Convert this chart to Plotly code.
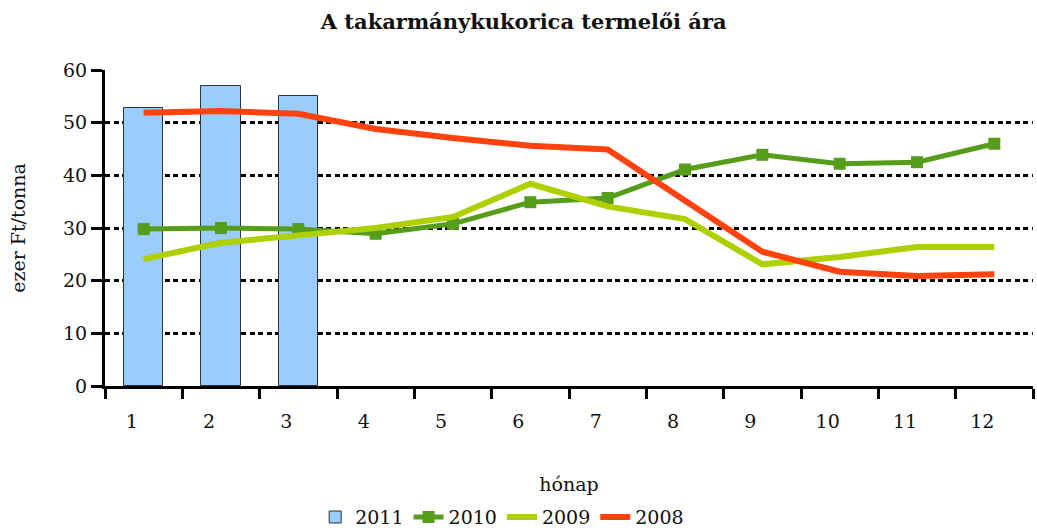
import plotly.graph_objects as go

months = [1, 2, 3, 4, 5, 6, 7, 8, 9, 10, 11, 12]
month_labels = ["1", "2", "3", "4", "5", "6", "7", "8", "9", "10", "11", "12"]
y2011 = [52.8, 57.0, 55.0]
y2010 = [29.8, 30.0, 29.8, 28.9, 30.8, 34.9, 35.7, 41.1, 43.9, 42.2, 42.5, 46.0]
y2009 = [24.1, 27.2, 28.6, 30.0, 32.1, 38.4, 34.1, 31.7, 23.1, 24.5, 26.4, 26.4]
y2008 = [51.9, 52.2, 51.7, 48.8, 47.1, 45.6, 44.9, 35.3, 25.5, 21.7, 20.9, 21.2]

FONT = "DejaVu Serif"

fig = go.Figure()
fig.add_trace(go.Bar(x=months[:3], y=y2011, name="2011", width=0.505,
                     marker=dict(color="#99ccff", line=dict(color="#333333", width=1))))
fig.add_trace(go.Scatter(x=months, y=y2010, name="2010", mode="lines+markers",
                         line=dict(color="#579d1c", width=5),
                         marker=dict(symbol="square", size=12, color="#579d1c")))
fig.add_trace(go.Scatter(x=months, y=y2009, name="2009", mode="lines",
                         line=dict(color="#aecf00", width=6)))
fig.add_trace(go.Scatter(x=months, y=y2008, name="2008", mode="lines",
                         line=dict(color="#ff420e", width=6)))

fig.update_layout(
    width=1037, height=530,
    margin=dict(l=105, r=4, t=70, b=144, autoexpand=False),
    paper_bgcolor="white", plot_bgcolor="white",
    font=dict(family=FONT, size=19, color="#111111"),
    title=dict(text="<b>A takarmánykukorica termelői ára</b>", x=0.505, xanchor="center",
               y=1 - 22 / 530, yanchor="middle", font=dict(family=FONT, size=21, color="#111111")),
    showlegend=True,
    legend=dict(orientation="h", x=0.428, xanchor="center", y=-0.415, yanchor="middle",
                font=dict(family=FONT, size=19), itemwidth=30, tracegroupgap=0,
                bgcolor="rgba(0,0,0,0)"),
    bargap=0,
)
fig.update_xaxes(
    range=[0.5, 12.5], automargin=False,
    tickmode="array", tickvals=[m - 0.155 for m in months], ticktext=month_labels,
    ticks="", ticklabelstandoff=16, showgrid=False, zeroline=False,
    showline=True, linecolor="black", linewidth=3,
    minor=dict(tickmode="array", tickvals=[m - 0.5 for m in months] + [12.5],
               ticks="outside", ticklen=10, tickwidth=3, tickcolor="black", showgrid=False),
    title=dict(text="hónap", standoff=47, font=dict(family=FONT, size=19)),
)
fig.update_yaxes(
    range=[0, 60], automargin=False, tickmode="array", tickvals=[0, 10, 20, 30, 40, 50, 60],
    ticks="outside", ticklen=11, tickwidth=3, tickcolor="black",
    showline=True, linecolor="black", linewidth=3,
    showgrid=True, gridcolor="black", gridwidth=3, griddash="5px,3.5px",
    zeroline=False,
    title=dict(text="ezer Ft/tonna", standoff=33, font=dict(family=FONT, size=19)),
)

fig.write_html("out.html", config={"displayModeBar": False},
               post_script="document.body.style.margin='0';document.body.style.overflow='hidden';")
